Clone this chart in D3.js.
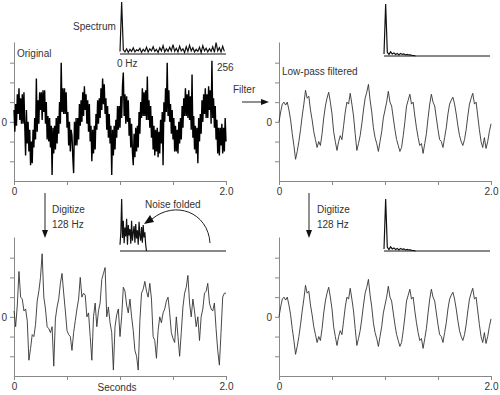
<!DOCTYPE html>
<meta charset="utf-8">
<script src="https://cdn.jsdelivr.net/npm/d3@7"></script>
<style>
  body { margin: 0; background: #fff; }
  svg text { font-family: "Liberation Sans", Arial, sans-serif; font-size: 10px; fill: #333; }
</style>
<div id="chart"></div>
<script>
// time traces over 0..2 s, in y-axis units (0 = centre line)
var original = [
  0.6,-0.5,0.9,-0.2,1.4,0.4,1.7,0.1,1.2,-0.1,1.4,-0.1,1.5,-0.2,-1.7,0.6,
  -1.1,0.0,-1.5,-0.4,-2.2,-1.0,-2.1,-0.4,-1.3,0.2,-0.9,2.2,-0.5,1.1,-0.1,1.5,
  0.6,1.5,0.1,1.6,0.5,1.6,-0.1,1.0,-0.9,0.3,-1.0,0.2,-1.3,-0.2,-2.7,-0.3,
  -1.6,-0.2,-1.4,0.2,-1.1,0.3,-0.6,1.0,-0.1,3.0,0.5,1.7,0.4,1.7,0.4,1.5,
  -0.3,0.5,-1.2,0.0,-1.5,-0.4,-0.7,-1.8,-2.6,0.0,-1.2,0.2,-1.2,0.2,-0.9,0.9,
  -0.2,1.1,0.0,1.5,0.3,1.8,0.6,1.4,-0.1,1.1,-0.5,0.9,-1.0,-0.2,-2.0,-0.4,
  -1.6,-0.2,-1.4,0.4,-0.4,1.1,-0.1,1.2,0.2,1.7,0.6,2.2,0.9,1.9,0.4,1.2,
  -0.4,0.8,-0.8,0.4,-1.1,-0.2,-2.7,-0.4,-1.7,-0.2,-1.4,0.1,-0.8,0.8,-0.4,0.8,
  -0.3,1.3,0.2,1.8,2.5,0.3,1.4,-0.1,1.3,0.0,1.1,-0.7,0.2,-1.3,-0.1,-1.5,
  -2.2,-0.6,-1.8,-0.3,-1.5,-0.2,-1.3,0.5,-0.6,1.0,0.2,1.7,0.3,1.5,0.3,1.6,
  0.1,2.3,0.1,1.1,-0.3,0.8,-0.8,0.3,-1.4,-0.2,-1.7,-0.4,-1.5,-0.3,-1.8,-0.5,
  -1.6,0.1,-1.1,0.5,-2.2,1.0,0.0,1.7,0.5,3.0,0.3,1.6,0.0,0.9,-0.6,0.6,
  -0.9,0.2,-1.5,-0.2,-1.5,-0.4,-1.6,0.0,-1.1,0.2,-0.9,0.8,-0.3,1.2,0.3,1.7,
  0.3,1.4,0.2,1.6,0.1,1.3,-0.4,2.4,-0.8,0.3,-1.4,-0.2,-1.6,-0.3,-2.1,0.2,
  -1.0,0.4,-0.6,1.1,0.0,1.4,0.4,1.7,0.2,1.4,0.2,1.8,0.6,1.6,-0.1,3.1,
  0.2,1.2,-0.3,0.8,-0.9,0.1,-1.6,-0.3,-1.7,-0.3,-1.2,-0.1,-1.6,-0.3,-1.5,0.2,
  -1.0
];
var filtered = [
  0.0,0.5,0.9,1.0,0.85,1.0,0.6,0.1,-0.6,-1.2,
  -1.9,-1.5,-1.0,-0.4,0.3,0.9,1.6,1.2,1.3,0.6,
  0.1,-0.5,-0.9,-1.3,-1.0,-1.2,-0.6,0.2,0.8,1.2,
  1.5,1.0,0.4,-0.5,-1.0,-1.45,-1.0,-0.7,-0.9,-0.2,
  0.5,1.0,0.9,1.45,0.9,0.3,-0.6,-1.45,-1.1,-0.7,
  -0.1,0.6,1.2,1.5,1.9,1.1,0.5,-0.3,-0.8,-1.1,
  -1.5,-1.0,-0.5,0.2,0.6,1.0,1.55,1.0,0.8,0.2,
  -0.4,-0.9,-1.2,-1.5,-1.3,-0.7,0.0,0.8,1.1,1.4,
  0.9,1.0,0.3,-0.3,-0.8,-1.2,-1.1,-1.6,-1.1,-0.6,
  0.2,0.9,1.4,1.0,0.8,0.2,-0.4,-0.9,-1.0,-1.3,
  -0.8,-0.3,0.4,0.9,1.1,1.25,0.9,0.4,-0.2,-0.7,
  -1.0,-1.2,-0.9,-0.4,0.3,0.9,1.2,1.45,0.9,1.0,
  0.3,-0.4,-1.0,-1.3,-0.8,-1.35,-1.0,-0.5,-0.1
];
var aliased = [
  0.3,-0.5,0.6,2.3,1.0,0.9,0.3,0.4,-0.2,-2.2,
  -1.6,-0.9,-1.0,-0.4,0.8,1.3,2.0,3.2,1.0,0.4,
  -0.5,-0.6,-0.8,-0.5,-2.5,-0.1,0.5,0.9,1.7,2.2,
  1.2,0.3,-0.7,-0.9,-1.0,-1.7,-0.8,-0.2,0.4,0.9,
  2.0,1.0,1.2,1.1,0.0,0.2,-1.0,-2.2,0.0,0.7,
  -0.5,0.3,0.7,1.9,2.2,2.5,0.0,0.5,-0.3,-0.8,
  -2.7,-0.5,0.1,0.4,-1.0,0.0,1.5,1.3,0.6,0.2,
  0.9,0.0,-0.7,-1.7,-2.0,-2.7,-0.2,1.2,1.4,1.8,
  1.3,1.0,1.7,0.9,-1.0,-1.2,-2.1,-0.7,0.0,-0.3,
  0.2,0.4,0.8,1.0,0.2,-0.8,-1.1,-1.3,0.0,-1.0,
  -2.0,-0.8,0.5,1.2,1.5,2.1,0.7,0.0,0.9,0.3,
  -0.5,0.0,-1.2,0.0,0.4,1.2,1.3,1.7,0.7,0.4,
  0.3,0.7,-0.6,-1.7,-2.45,-0.8,1.0,1.2,1.2
];

// spectra, relative amplitude (peak = 100)
var spectrumOriginal = [5,100,8,4,10,3,9,5,12,4,8,6,11,3,9,5,13,4,10,6,14,5,9,3,12,6,16,4,10,5,13,6,
  18,5,11,4,15,6,10,3,14,5,17,6,12,4,9,5,13,3,16,6,11,4,10,5,14,3,22,6,12,4,15,5];   // 4 Hz bins
var spectrumFiltered = [4,100,7,3,8,4,6,3,5,2,5,3,4,2,3,2,2,1,1,0];                   // 4 Hz bins
var spectrumAliased = [12,35,100,25,58,15,45,28,62,12,50,30,42,14,58,20,36,48,16,52,24,40,12,56,
  30,20,46,16,50,26,36,12,0];                                                          // 2 Hz bins

var xTicks = [0, 0.5, 1.0, 1.5, 2.0];
var xTickLabels = ["0", "", "", "", "2.0"];
var yTicks = [-2, -1, 0, 1, 2, 3];

var pw = 212, ph = 139, sw = 106, sh = 52;

var svg = d3.select("#chart").append("svg")
    .attr("width", 500)
    .attr("height", 395);

var panels = [
    {left: 14,  bottom: 181, data: original, color: "#000", lw: 1.4, spec: spectrumOriginal, bin: 4, sLeft: 120, sBase: 54},
    {left: 279, bottom: 181, data: filtered, color: "#333", lw: 0.9, spec: spectrumFiltered, bin: 4, sLeft: 384, sBase: 56},
    {left: 14,  bottom: 376, data: aliased,  color: "#333", lw: 0.9, spec: spectrumAliased,  bin: 2, sLeft: 120, sBase: 251},
    {left: 279, bottom: 376, data: filtered, color: "#333", lw: 0.9, spec: spectrumFiltered, bin: 4, sLeft: 384, sBase: 251}
];

panels.forEach(function(p) {
    var x = d3.scaleLinear().domain([0, 2]).range([p.left, p.left + pw]);
    var y = d3.scaleLinear().domain([-3, 4.05]).range([p.bottom, p.bottom - ph]);

    var ax = svg.append("g")
        .attr("transform", "translate(0," + p.bottom + ")")
        .call(d3.axisBottom(x).tickValues(xTicks).tickSize(4).tickSizeOuter(0)
            .tickFormat(function(d, i) { return xTickLabels[i]; }));
    var ay = svg.append("g")
        .attr("transform", "translate(" + p.left + ",0)")
        .call(d3.axisLeft(y).tickValues(yTicks).tickSize(4).tickSizeOuter(0)
            .tickFormat(function(d) { return d === 0 ? "0" : ""; }));
    [ax, ay].forEach(function(a) {
        a.attr("font-family", null).attr("font-size", null);
        a.selectAll("path, line").attr("stroke", "#888");
        a.selectAll("text").attr("fill", "#333");
    });

    var n = p.data.length;
    svg.append("path")
        .datum(p.data)
        .attr("fill", "none")
        .attr("stroke", p.color)
        .attr("stroke-width", p.lw)
        .attr("d", d3.line()
            .x(function(d, i) { return x(i * 2 / (n - 1)); })
            .y(function(d) { return y(d); }));

    // spectrum inset
    var fx = d3.scaleLinear().domain([0, 256]).range([p.sLeft, p.sLeft + sw]);
    var fy = d3.scaleLinear().domain([0, 100]).range([p.sBase, p.sBase - sh]);
    svg.append("line")
        .attr("x1", fx(0)).attr("x2", fx(256))
        .attr("y1", fy(0)).attr("y2", fy(0))
        .attr("stroke", "#111").attr("stroke-width", 1);
    svg.append("path")
        .datum(p.spec)
        .attr("fill", "none")
        .attr("stroke", "#111")
        .attr("stroke-width", 1.2)
        .attr("d", d3.line()
            .x(function(d, i) { return fx(i * p.bin); })
            .y(function(d) { return fy(d); }));
});

// labels
function label(txt, x, y, anchor) {
    svg.append("text").attr("x", x).attr("y", y)
        .attr("text-anchor", anchor || "start").text(txt);
}
label("Spectrum", 73, 30);
label("0 Hz", 117, 67);
label("256", 217, 71);
label("Original", 17, 57);
label("Low-pass filtered", 282, 75);
label("Filter", 233, 93);
label("Digitize", 52, 213);
label("128 Hz", 52, 228);
label("Noise folded", 145, 208);
label("Digitize", 317, 213);
label("128 Hz", 317, 228);
label("Seconds", 117, 391, "middle");

// arrows
svg.append("line").attr("x1", 242).attr("x2", 262).attr("y1", 102).attr("y2", 102)
    .attr("stroke", "#222");
svg.append("polygon").attr("points", "261,99 269,102 261,105").attr("fill", "#111");

[45, 309].forEach(function(ax) {
    svg.append("line").attr("x1", ax).attr("x2", ax).attr("y1", 193).attr("y2", 231)
        .attr("stroke", "#222");
    svg.append("polygon")
        .attr("points", (ax - 3) + ",230 " + (ax + 3) + ",230 " + ax + ",238")
        .attr("fill", "#111");
});

svg.append("path")
    .attr("d", "M210,243 C208,212 175,200 152,219")
    .attr("fill", "none").attr("stroke", "#222");
svg.append("polygon").attr("points", "144,224 154,222 150,215").attr("fill", "#111");
</script>
